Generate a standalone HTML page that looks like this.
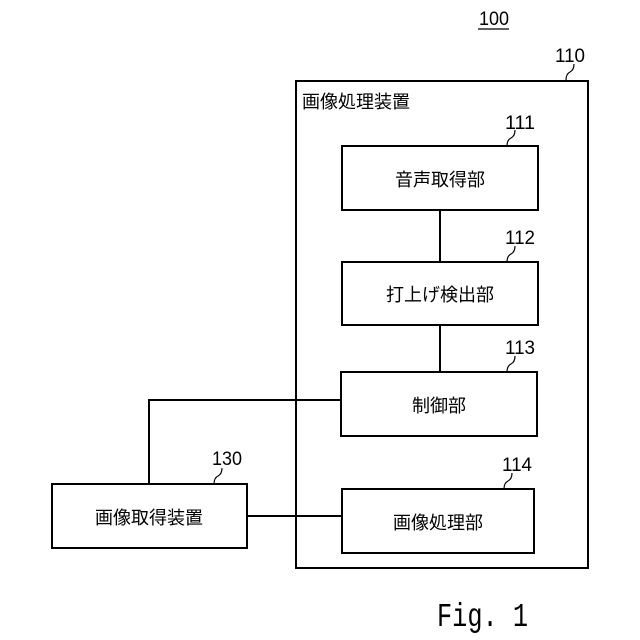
<!DOCTYPE html>
<html><head><meta charset="utf-8"><style>html,body{margin:0;padding:0;background:#fff}</style></head>
<body>
<svg width="640" height="640" xmlns="http://www.w3.org/2000/svg" style="display:block">
<g fill="none" stroke="#000" stroke-width="2">
<rect x="296" y="81" width="292" height="487"/>
<rect x="342" y="146" width="196" height="64"/>
<rect x="342" y="262" width="196" height="63"/>
<rect x="341" y="372" width="196" height="64"/>
<rect x="342" y="489" width="192" height="64"/>
<rect x="52" y="484" width="195" height="64"/>
<line x1="440" y1="210" x2="440" y2="262"/>
<line x1="440" y1="325" x2="440" y2="372"/>
<polyline points="149,484 149,400 341,400"/>
<line x1="247" y1="516" x2="342" y2="516"/>
<g stroke-width="1.2">
<path d="M566,80 q0,-6 4,-8 q4,-2 4,-8"/>
<path d="M507,146 q0,-6 4,-8 q4,-2 4,-8"/>
<path d="M507,262 q0,-6 4,-8 q4,-2 4,-8"/>
<path d="M507,372 q0,-6 4,-8 q4,-2 4,-8"/>
<path d="M504,489 q0,-6 4,-8 q4,-2 4,-8"/>
<path d="M214,484 q0,-6 4,-8 q4,-2 4,-8"/>
<line x1="478" y1="29" x2="509" y2="29"/>
</g>
</g>
<g font-family="Liberation Sans, Noto Sans CJK JP, sans-serif" font-size="19" fill="#000">
<text x="479" y="25" textLength="30" lengthAdjust="spacingAndGlyphs">100</text>
<text x="555" y="62" textLength="30" lengthAdjust="spacingAndGlyphs">110</text>
<text x="505" y="129" textLength="30" lengthAdjust="spacingAndGlyphs">111</text>
<text x="505" y="244" textLength="30" lengthAdjust="spacingAndGlyphs">112</text>
<text x="505" y="354" textLength="30" lengthAdjust="spacingAndGlyphs">113</text>
<text x="502" y="471" textLength="30" lengthAdjust="spacingAndGlyphs">114</text>
<text x="212" y="465" textLength="30" lengthAdjust="spacingAndGlyphs">130</text>
</g>
<g font-family="Liberation Sans, Noto Sans CJK JP, sans-serif" font-size="18" fill="#000">
<text x="302" y="108">画像処理装置</text>
<text x="440" y="186" text-anchor="middle">音声取得部</text>
<text x="440" y="301" text-anchor="middle">打上げ検出部</text>
<text x="439" y="412" text-anchor="middle">制御部</text>
<text x="438" y="529" text-anchor="middle">画像処理部</text>
<text x="149" y="524" text-anchor="middle">画像取得装置</text>
</g>
<text x="437" y="626" font-family="Liberation Mono, monospace" font-size="33" textLength="91" lengthAdjust="spacingAndGlyphs">Fig. 1</text>
</svg>
</body></html>
